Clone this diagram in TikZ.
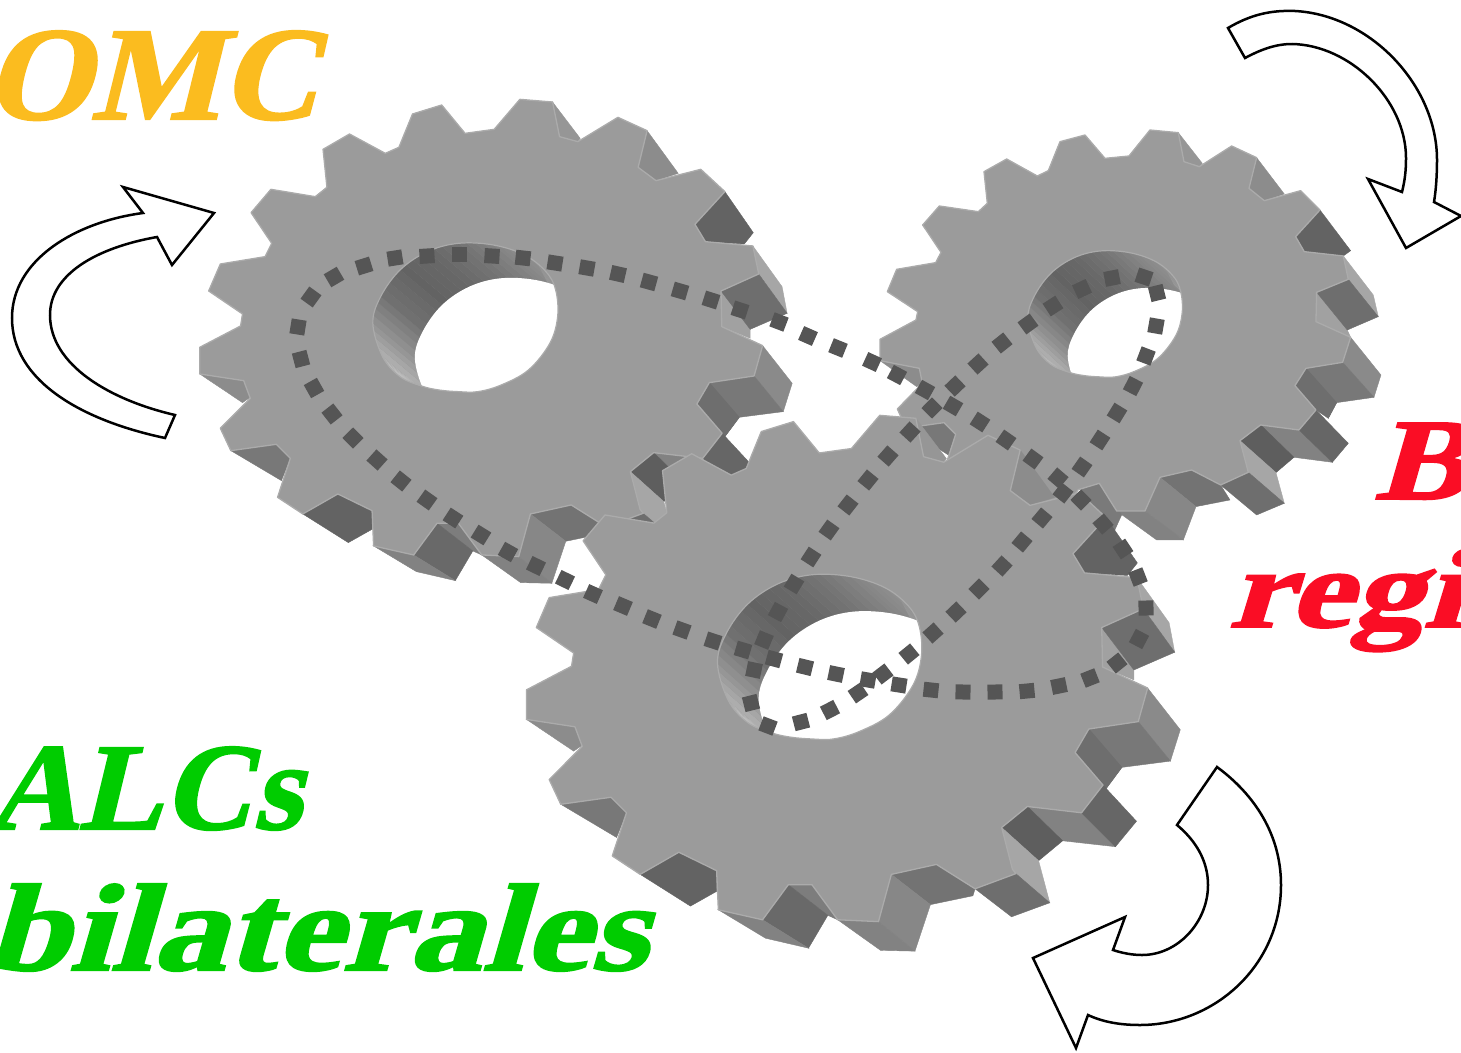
\documentclass[tikz,border=0pt]{standalone}
\usepackage{fontspec}
\newfontfamily\lab[FakeSlant=0.24,FakeBold=1.6]{Liberation Serif}
\definecolor{facec}{HTML}{9B9B9B}
\definecolor{edgec}{HTML}{ABABAB}
\definecolor{beltc}{HTML}{555555}
\definecolor{omcc}{HTML}{FBBC1F}
\definecolor{alcc}{HTML}{00CC00}
\definecolor{blc}{HTML}{FA0D25}
\tikzset{
  face/.style={fill=facec,draw=edgec,line width=1.3pt,line join=round},
  rot/.style={draw=black,fill=white,line width=2.5pt,line join=miter},
  word/.style={anchor=base west,inner sep=0pt,outer sep=0pt}
}
\newcommand\sd[2]{\fill[black!#1,draw=black!#1,line width=.4pt] #2 -- cycle;}
\newcommand\faceA{(848,28) -- (932,36) -- (950,140) -- (997,155) -- (1100,82) -- (1175,122) -- (1152,232) -- (1198,272) -- (1313,238) -- (1375,305) -- (1298,403) -- (1325,455) -- (1447,468) -- (1462,552) -- (1365,603) -- (1367,710) -- (1472,767) -- (1450,858) -- (1335,878) -- (1303,942) -- (1368,1030) -- (1318,1105) -- (1192,1088) -- (1132,1145) -- (1157,1258) -- (1165,1270) -- (1070,1311) -- (980,1245) -- (875,1272) -- (845,1400) -- (750,1395) -- (690,1300) -- (635,1300) -- (575,1395) -- (472,1368) -- (468,1262) -- (380,1212) -- (290,1272) -- (225,1222) -- (258,1105) -- (222,1063) -- (105,1082) -- (78,1015) -- (155,925) -- (138,872) -- (25,852) -- (25,772) -- (130,708) -- (135,672) -- (48,603) -- (78,522) -- (193,500) -- (210,460) -- (157,368) -- (208,298) -- (322,320) -- (352,292) -- (342,178) -- (410,132) -- (502,190) -- (537,172) -- (572,72) -- (647,45) -- (707,130) -- (782,118) -- cycle}
\newcommand\sidesA{%
\sd{41}{(932,36) -- (1003,145) -- (997,155) -- (950,140)}
\sd{45}{(1175,122) -- (1255,250) -- (1198,272) -- (1152,232)}
\sd{61}{(1375,305) -- (1448,428) -- (1425,462) -- (1325,455) -- (1298,403)}
\sd{35}{(1447,468) -- (1522,590) -- (1535,670) -- (1462,550)}
\sd{37}{(1365,603) -- (1440,718) -- (1440,745) -- (1367,710)}
\sd{57}{(1365,603) -- (1462,552) -- (1535,670) -- (1440,718)}
\sd{46}{(1472,767) -- (1548,880) -- (1525,965) -- (1450,858)}
\sd{53}{(1335,878) -- (1450,858) -- (1525,965) -- (1412,982) -- (1375,1040)}
\sd{57}{(1303,942) -- (1335,878) -- (1412,982) -- (1375,1040)}
\sd{49}{(1192,1088) -- (1318,1105) -- (1397,1197) -- (1274,1181)}
\sd{60}{(1368,1030) -- (1446,1128) -- (1397,1197) -- (1318,1105)}
\sd{63}{(1132,1145) -- (1192,1088) -- (1274,1181) -- (1218,1235)}
\sd{35}{(1132,1145) -- (1218,1235) -- (1244,1349) -- (1165,1270) -- (1157,1258)}
\sd{57}{(1070,1311) -- (1165,1270) -- (1244,1349) -- (1155,1387)}
\sd{55}{(980,1245) -- (1070,1311) -- (1065,1330) -- (966,1354) -- (875,1272)}
\sd{47}{(875,1272) -- (966,1354) -- (930,1480) -- (845,1400)}
\sd{49}{(750,1395) -- (845,1400) -- (930,1480) -- (850,1478)}
\sd{51}{(690,1300) -- (750,1395) -- (727,1383) -- (635,1300)}
\sd{59}{(635,1300) -- (727,1383) -- (682,1472) -- (575,1395)}
\sd{49}{(472,1368) -- (575,1395) -- (682,1472) -- (582,1445)}
\sd{61}{(380,1212) -- (468,1262) -- (468,1318) -- (407,1358) -- (290,1272)}
\sd{53}{(222,1063) -- (258,1105) -- (235,1172) -- (105,1082)}
\sd{45}{(25,852) -- (138,872) -- (155,922) -- (135,938)}
}
\newcommand\holepath{plot[smooth cycle,tension=.6] coordinates {(470,700) (490,620) (540,540) (610,485) (690,460) (780,465) (860,495) (915,545) (940,600) (945,680) (925,760) (870,840) (800,885) (740,905) (690,905) (640,900) (595,888) (540,860) (495,800)}}
\newcommand\backpath[2]{[shift={(#1,#2)}] plot[smooth cycle,tension=.6] coordinates {(470,700) (490,620) (540,540) (610,485) (690,460) (780,465) (860,495) (915,545) (940,600) (945,680) (925,760) (870,840) (800,885) (740,905) (690,905) (640,900) (595,888) (540,860) (495,800)}}
\newcommand\hole[2]{%
\begin{scope}
\clip \holepath;
\fill[black!45] (440,430) rectangle (980,930);
\foreach \xa/\ya/\xb/\yb/\ga/\gb in {595/888/540/860/.80/.76,540/860/495/800/.76/.68,495/800/470/700/.68/.56,470/700/490/620/.56/.44,490/620/540/540/.44/.39,540/540/610/485/.39/.41,610/485/690/460/.41/.46,690/460/780/465/.46/.52,780/465/860/495/.52/.56,860/495/915/545/.56/.58,915/545/940/600/.58/.60}{
  \foreach \t in {0,.25,.5,.75}{
    \pgfmathsetmacro\gg{\ga+(\gb-\ga)*\t}
    \definecolor{wallc}{gray}{\gg}
    \fill[wallc] (\xa+\t*\xb-\t*\xa-20,\ya+\t*\yb-\t*\ya-20) -- (\xa+\t*\xb+.25*\xb-\t*\xa-.25*\xa-20,\ya+\t*\yb+.25*\yb-\t*\ya-.25*\ya-20) -- (\xa+\t*\xb+.25*\xb-\t*\xa-.25*\xa+#1,\ya+\t*\yb+.25*\yb-\t*\ya-.25*\ya+#2) -- (\xa+\t*\xb-\t*\xa+#1,\ya+\t*\yb-\t*\ya+#2) -- cycle;
  }
}
\fill[white] \backpath{#1}{#2};
\end{scope}
\draw[edgec,line width=1.2pt] \holepath;
}
\newcommand\beltdots[1]{%
\foreach \x/\y [count=\i,remember=\xa as \xb (initially 0),remember=\ya as \yb (initially 0),remember=\x as \xa (initially 0),remember=\y as \ya (initially 0)] in {#1}{
  \ifnum\i>2
    \pgfmathsetmacro\ang{atan2(\yb-\y,\x-\xb)}
    \fill[beltc,shift={(\xa,\ya)},rotate=\ang] (-7.5,-7.5) rectangle (7.5,7.5);
  \fi
}}
\begin{document}
\begin{tikzpicture}[x=1pt,y=-1pt]
\useasboundingbox (0,0) rectangle (1461,1052);
% rear right gear
\begin{scope}[shift={(870pt,-120pt)},x=.3333pt,y=-.3333pt]
\sd{45}{(30,722) -- (148,745) -- (160,790) -- (140,800)}
\sd{53}{(222,908) -- (257,943) -- (235,1005) -- (108,924)}
\sd{41}{(925,38) -- (997,130) -- (988,140) -- (942,125)}
\sd{45}{(1160,113) -- (1243,222) -- (1183,242) -- (1137,205)}
\sd{61}{(1350,270) -- (1442,392) -- (1420,408) -- (1303,395) -- (1277,350)}
\sd{35}{(1420,408) -- (1510,525) -- (1525,590) -- (1435,478)}
\sd{37}{(1340,517) -- (1432,630) -- (1442,652) -- (1338,605)}
\sd{57}{(1340,517) -- (1435,478) -- (1525,590) -- (1432,630)}
\sd{46}{(1442,652) -- (1533,765) -- (1512,832) -- (1418,727)}
\sd{53}{(1308,745) -- (1418,727) -- (1512,832) -- (1400,848) -- (1375,895)}
\sd{57}{(1275,797) -- (1308,745) -- (1400,848) -- (1375,895) -- (1338,870)}
\sd{49}{(1172,915) -- (1287,930) -- (1387,1027) -- (1272,1012)}
\sd{60}{(1338,870) -- (1435,970) -- (1387,1027) -- (1287,930)}
\sd{63}{(1110,962) -- (1172,915) -- (1272,1012) -- (1218,1058)}
\sd{35}{(1110,962) -- (1218,1058) -- (1243,1150) -- (1135,1057)}
\sd{57}{(1052,1095) -- (1135,1057) -- (1243,1150) -- (1160,1185)}
\sd{55}{(965,1050) -- (1052,1095) -- (1080,1140) -- (978,1160) -- (870,1072)}
\sd{47}{(870,1072) -- (978,1160) -- (940,1260) -- (825,1173)}
\sd{49}{(740,1173) -- (825,1173) -- (940,1260) -- (860,1260)}
\sd{52}{(688,1090) -- (755,1185) -- (730,1240) -- (630,1105)}
\draw[face] (840,30) -- (925,38) -- (942,125) -- (988,140) -- (1085,78) -- (1160,113) -- (1137,205) -- (1183,242) -- (1292,212) -- (1350,270) -- (1277,350) -- (1303,395) -- (1420,408) -- (1435,478) -- (1340,517) -- (1338,605) -- (1442,652) -- (1418,727) -- (1308,745) -- (1275,797) -- (1338,870) -- (1287,930) -- (1172,915) -- (1110,962) -- (1135,1057) -- (1052,1095) -- (965,1050) -- (870,1072) -- (825,1173) -- (740,1173) -- (688,1090) -- (625,1109) -- (566,1189) -- (466,1166) -- (462,1076) -- (376,1034) -- (288,1085) -- (225,1042) -- (257,943) -- (222,908) -- (108,924) -- (82,867) -- (157,790) -- (148,745) -- (30,722) -- (30,658) -- (138,600) -- (143,575) -- (52,515) -- (80,448) -- (197,428) -- (213,397) -- (158,315) -- (208,258) -- (325,275) -- (352,250) -- (342,155) -- (410,117) -- (502,168) -- (535,152) -- (570,65) -- (645,45) -- (705,115) -- (777,108) -- cycle;
\begin{scope}[shift={(5pt,-1pt)},x=.325pt,y=-.2827pt]
\hole{123}{132}
\end{scope}
\end{scope}
% left gear
\begin{scope}[shift={(190pt,-90pt)},x=.389pt,y=-.3333pt]
\sidesA
\draw[face] \faceA;
\hole{108}{105}
\end{scope}
% front gear
\begin{scope}[shift={(515.7pt,-405pt)},x=.4293pt,y=-.369pt]
\sidesA
\draw[face] \faceA;
\hole{96}{100}
\end{scope}
% belts
\beltdots{740/310,779/322,808/336,838/348,872/362,897/375,925/390,953/406,980/422,1006/440,1033/459,1058/478,1081/500,1103/524,1123/549,1138/577,1146/608,1139/639,1117/663,1090/678,1059/686,1027/691,995/692,963/692,931/690,899/685,868/680,836/674,805/667,774/659,743/650,713/641,682/630,652/619,623/606,593/594,565/580,536/566,508/552,481/535,453/518,427/500,401/481,377/460,353/438,332/414,314/388,301/359,298/327,311/297,334/277,364/266,395/258,427/256,459/254,492/256,523/258,555/263,587/268,618/274,649/282,680/291,711/300,740/310,779/322}
\beltdots{888/456,910/432,932/408,955/386,978/364,1002/343,1028/324,1053/306,1082/289,1112/278,1144/277,1157/293,1156/326,1146/356,1133/386,1117/413,1100/440,1082/467,1063/493,1042/518,1022/542,1002/566,979/589,956/612,933/633,909/654,883/674,858/693,830/710,801/722,768/726,751/703,754/670,764/640,778/612,794/584,811/557,829/530,848/505,868/480,888/456,910/432}
% rotation arrows
\draw[rot] (165,438) .. controls (80,420) and (12,380) .. (12,318) .. controls (12,260) and (75,222) .. (143,213) -- (123,187) -- (214,213) -- (172,265) -- (157,237) .. controls (95,248) and (50,275) .. (50,315) .. controls (50,365) and (110,400) .. (175,415) -- cycle;
\draw[rot] (1228,28) .. controls (1250,15) and (1270,10) .. (1295,11) .. controls (1370,15) and (1437,85) .. (1437,160) .. controls (1437,175) and (1436,190) .. (1434,202) -- (1461,216) -- (1406,248) -- (1368,179) -- (1402,192) .. controls (1405,180) and (1406,170) .. (1406,158) .. controls (1406,100) and (1350,45) .. (1292,44) .. controls (1275,44) and (1260,50) .. (1245,58) -- cycle;
\draw[rot] (1217,767) .. controls (1255,795) and (1281,835) .. (1281,885) .. controls (1281,965) and (1215,1025) .. (1140,1025) .. controls (1120,1025) and (1103,1022) .. (1088,1015) -- (1076,1048) -- (1033,958) -- (1125,917) -- (1113,950) .. controls (1122,953) and (1132,955) .. (1142,955) .. controls (1178,955) and (1208,922) .. (1208,885) .. controls (1208,860) and (1195,840) .. (1177,825) -- cycle;
% labels
\node[word,text=omcc] (omc) at (-16,119) {\scalebox{1.03}[1]{\fontsize{133}{133}\lab\bfseries OMC}};
\node[word,text=alcc] (alcs) at (-12,829) {\scalebox{1.01}[1]{\fontsize{124}{124}\lab\bfseries ALCs}};
\node[word,text=alcc] (bil) at (-14,970) {\scalebox{1.2}[1]{\fontsize{124}{124}\lab\bfseries bilaterales}};
\node[word,text=blc] (bl) at (1374,499) {\scalebox{1.2}[1]{\fontsize{116}{116}\lab\bfseries B}};
\node[word,text=blc] (reg) at (1228,627) {\scalebox{1.27}[1]{\fontsize{112}{112}\lab\bfseries regi}};
\end{tikzpicture}
\end{document}
